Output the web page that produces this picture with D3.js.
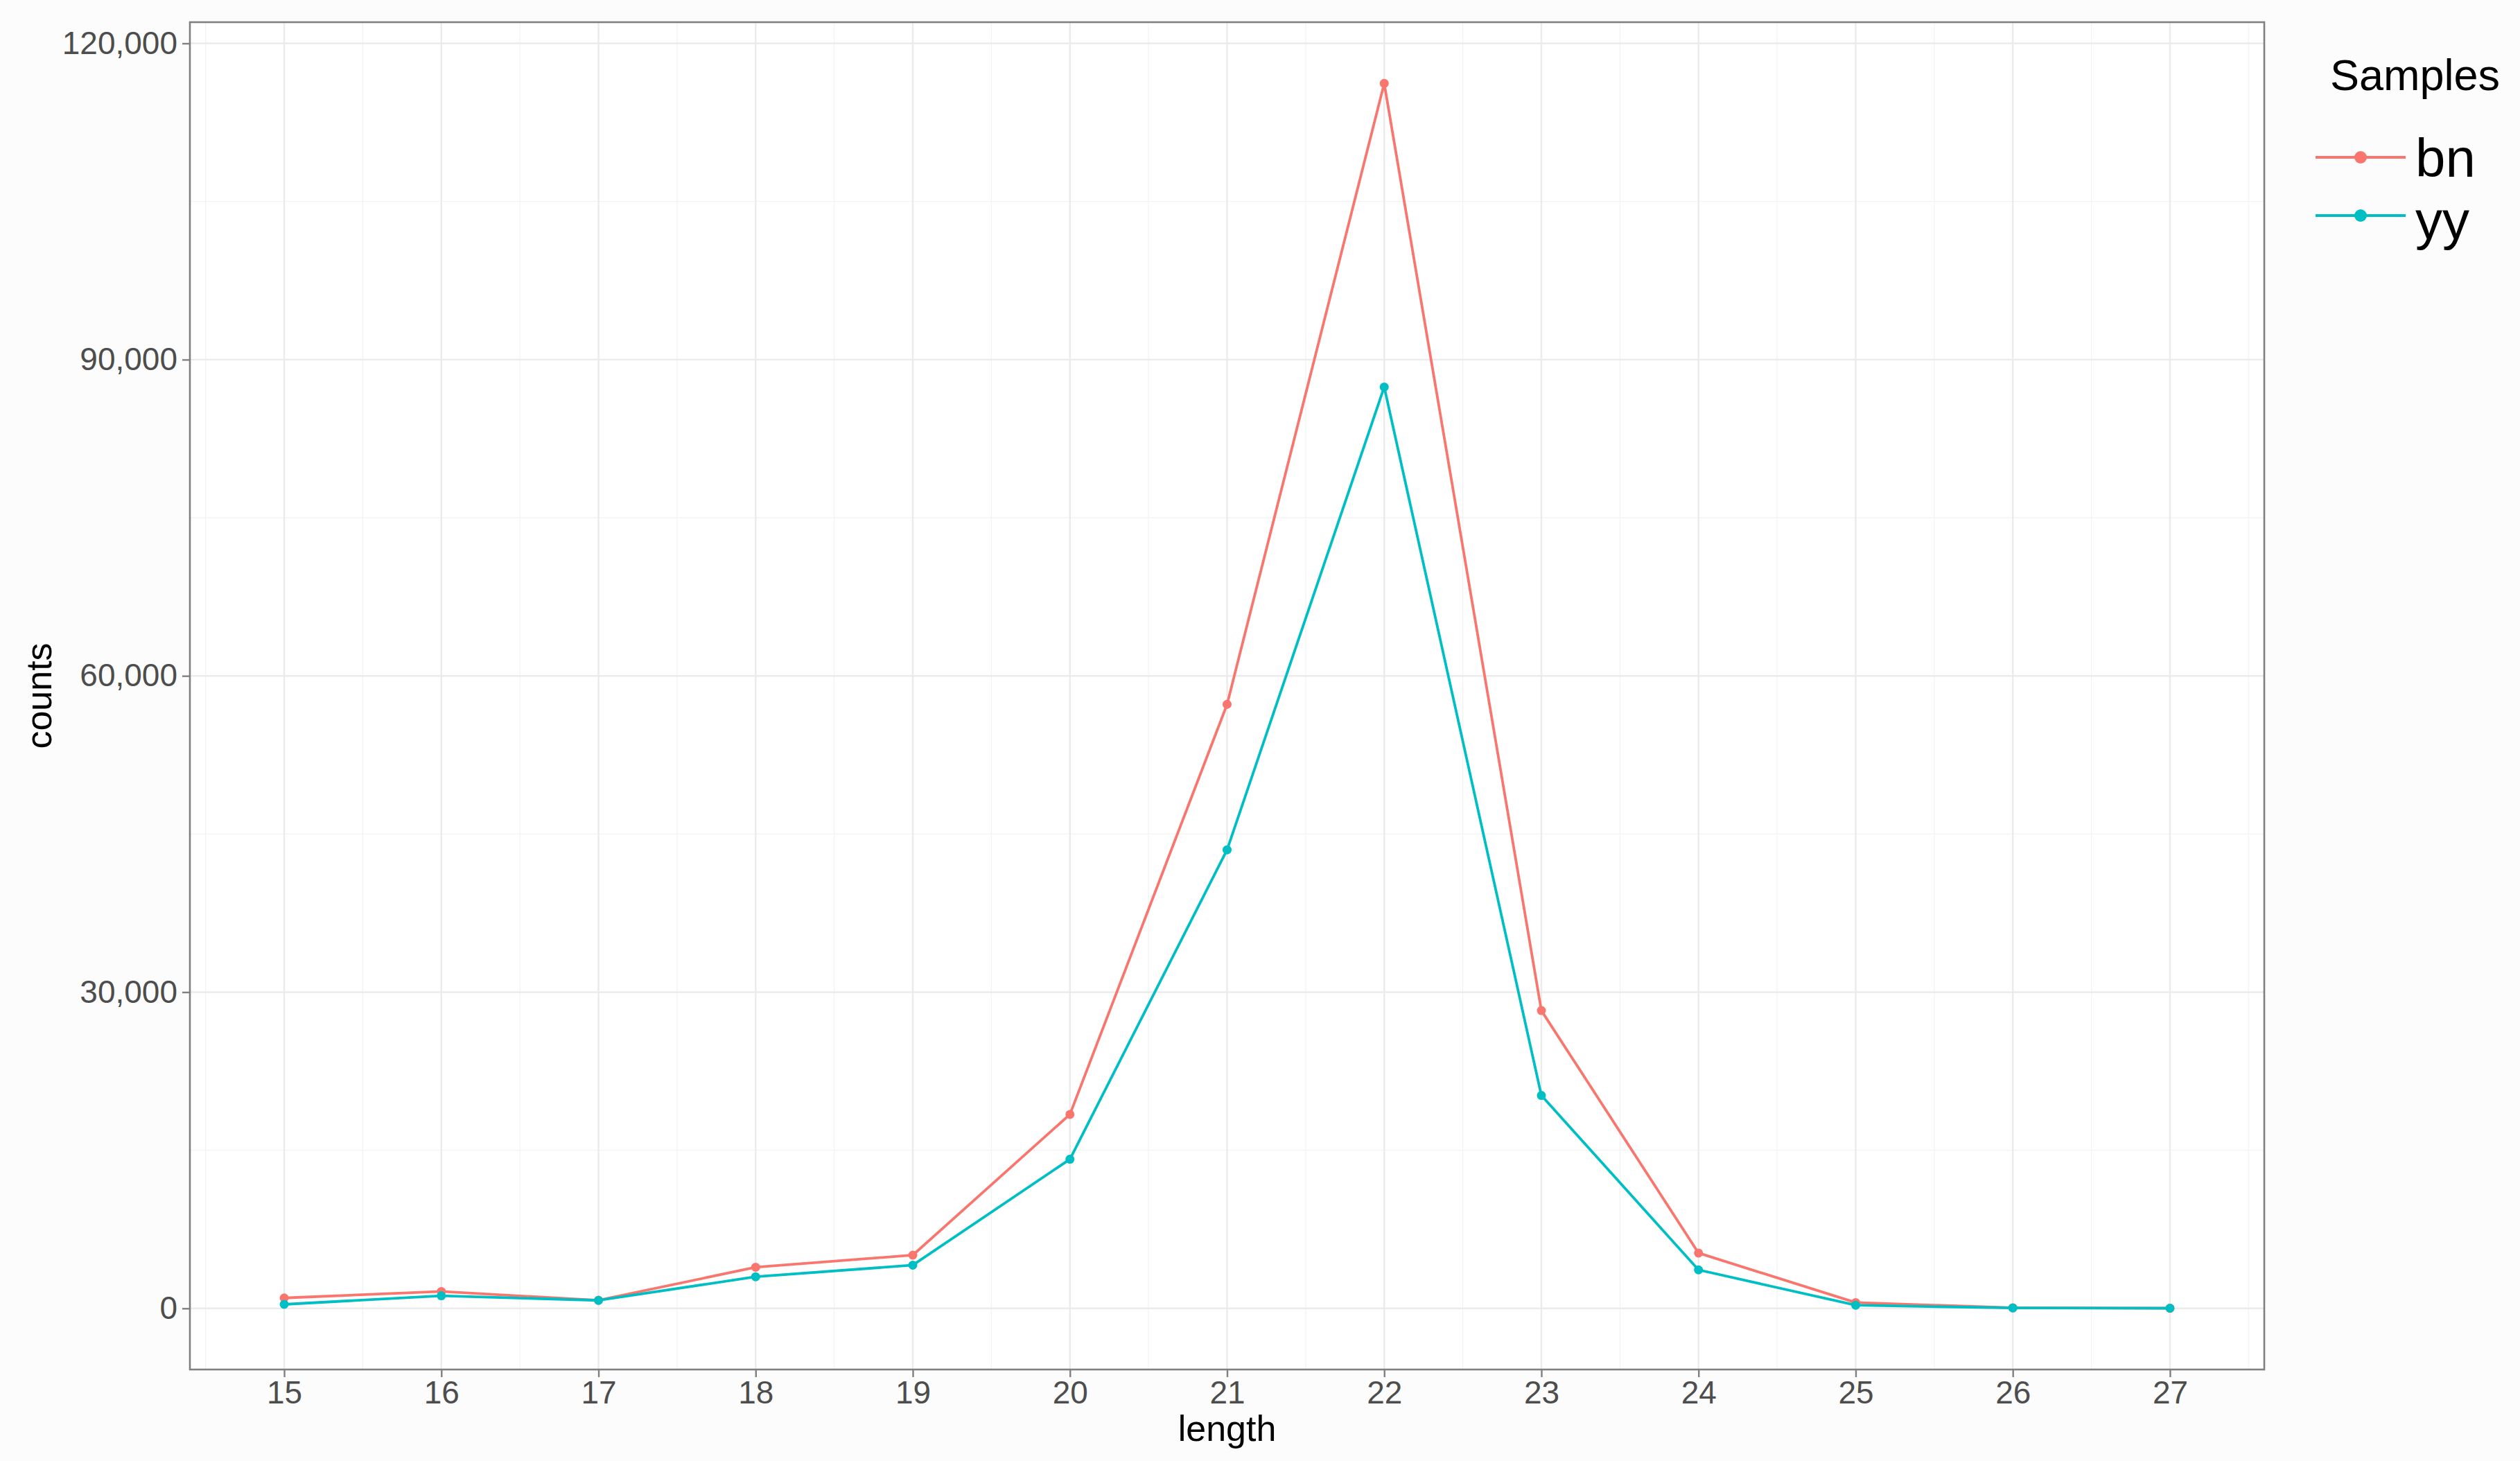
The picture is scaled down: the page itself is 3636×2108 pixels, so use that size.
<!DOCTYPE html>
<html>
<head>
<meta charset="utf-8">
<script src="https://cdn.jsdelivr.net/npm/d3@7"></script>
<style>
  html, body { margin: 0; padding: 0; background: #fcfcfc; }
  svg { display: block; font-family: 'Liberation Sans', Arial, sans-serif; }
</style>
</head>
<body>
<div id="chart"></div>
<script>
// read-length counts per sample
const lengths = [15, 16, 17, 18, 19, 20, 21, 22, 23, 24, 25, 26, 27];
const bnCounts = [990, 1600, 770, 3900, 5050, 18400, 57300, 116200, 28250, 5250, 550, 60, 10];
const yyCounts = [380, 1200, 760, 3000, 4100, 14150, 43500, 87400, 20200, 3650, 300, 40, 20];
const sampleNames = ['bn', 'yy'];
const yTicks = [0, 30000, 60000, 90000, 120000];
const yMinor = [15000, 45000, 75000, 105000];

const color = {
  series: ['#F8766D', '#00BFC4'],
  gridMajor: '#ebebeb',
  gridMinor: '#f3f3f3',
  border: '#808080',
  tickText: '#4d4d4d',
  title: '#000000'
};

const W = 3636;
const H = 2108;
const panel = { left: 274, right: 3267, top: 32, bottom: 1976 };

const svg = d3.select('#chart')
  .append('svg')
  .attr('width', W)
  .attr('height', H);

svg.append('rect')
  .attr('x', panel.left)
  .attr('y', panel.top)
  .attr('width', panel.right - panel.left)
  .attr('height', panel.bottom - panel.top)
  .attr('fill', '#ffffff');

// scales with ggplot-style 5% expansion
const xExt = d3.extent(lengths);
const xPad = (xExt[1] - xExt[0]) * 0.05;
const x = d3.scaleLinear()
  .domain([xExt[0] - xPad, xExt[1] + xPad])
  .range([panel.left, panel.right]);

const allCounts = bnCounts.concat(yyCounts);
const yExt = d3.extent(allCounts);
const yPad = (yExt[1] - yExt[0]) * 0.05;
const y = d3.scaleLinear()
  .domain([yExt[0] - yPad, yExt[1] + yPad])
  .range([panel.bottom, panel.top]);

const xMinor = lengths.map((d) => d - 0.5).concat([xExt[1] + 0.5]);

// grid lines
const grid = svg.append('g');
grid.selectAll('.xminor')
  .data(xMinor)
  .enter()
  .append('line')
  .attr('x1', (d) => x(d))
  .attr('x2', (d) => x(d))
  .attr('y1', panel.top)
  .attr('y2', panel.bottom)
  .attr('stroke', color.gridMinor)
  .attr('stroke-width', 1.3);

grid.selectAll('.yminor')
  .data(yMinor)
  .enter()
  .append('line')
  .attr('x1', panel.left)
  .attr('x2', panel.right)
  .attr('y1', (d) => y(d))
  .attr('y2', (d) => y(d))
  .attr('stroke', color.gridMinor)
  .attr('stroke-width', 1.3);

grid.selectAll('.xmajor')
  .data(lengths)
  .enter()
  .append('line')
  .attr('x1', (d) => x(d))
  .attr('x2', (d) => x(d))
  .attr('y1', panel.top)
  .attr('y2', panel.bottom)
  .attr('stroke', color.gridMajor)
  .attr('stroke-width', 2.4);

grid.selectAll('.ymajor')
  .data(yTicks)
  .enter()
  .append('line')
  .attr('x1', panel.left)
  .attr('x2', panel.right)
  .attr('y1', (d) => y(d))
  .attr('y2', (d) => y(d))
  .attr('stroke', color.gridMajor)
  .attr('stroke-width', 2.4);

// axes
const xAxis = svg.append('g')
  .attr('transform', `translate(0, ${panel.bottom})`)
  .call(d3.axisBottom(x).tickValues(lengths).tickSize(11).tickPadding(5).tickFormat(d3.format('d')));

const yAxis = svg.append('g')
  .attr('transform', `translate(${panel.left}, 0)`)
  .call(d3.axisLeft(y).tickValues(yTicks).tickSize(11).tickPadding(7).tickFormat(d3.format(',')));

[xAxis, yAxis].forEach((ax) => {
  ax.select('.domain').remove();
  ax.selectAll('.tick line').attr('stroke', color.border).attr('stroke-width', 2.4);
  ax.selectAll('.tick text')
    .attr('fill', color.tickText)
    .style('font-size', '46px')
    .style('font-family', 'inherit');
});

// panel border
svg.append('rect')
  .attr('x', panel.left)
  .attr('y', panel.top)
  .attr('width', panel.right - panel.left)
  .attr('height', panel.bottom - panel.top)
  .attr('fill', 'none')
  .attr('stroke', color.border)
  .attr('stroke-width', 2.6);

// axis titles
svg.append('text')
  .attr('x', (panel.left + panel.right) / 2)
  .attr('y', 2079)
  .attr('text-anchor', 'middle')
  .attr('fill', color.title)
  .style('font-size', '52px')
  .text('length');

svg.append('text')
  .attr('transform', `translate(74, ${(panel.top + panel.bottom) / 2}) rotate(-90)`)
  .attr('text-anchor', 'middle')
  .attr('fill', color.title)
  .style('font-size', '52px')
  .text('counts');

// series
const series = [bnCounts, yyCounts].map((vals, i) => ({
  name: sampleNames[i],
  color: color.series[i],
  points: lengths.map((len, j) => ({ len, value: vals[j] }))
}));

const line = d3.line()
  .x((d) => x(d.len))
  .y((d) => y(d.value));

const seriesG = svg.selectAll('.series')
  .data(series)
  .enter()
  .append('g');

seriesG.append('path')
  .attr('d', (d) => line(d.points))
  .attr('fill', 'none')
  .attr('stroke', (d) => d.color)
  .attr('stroke-width', 3.8)
  .attr('stroke-linejoin', 'round');

seriesG.selectAll('circle')
  .data((d) => d.points.map((p) => ({ ...p, color: d.color })))
  .enter()
  .append('circle')
  .attr('cx', (d) => x(d.len))
  .attr('cy', (d) => y(d.value))
  .attr('r', 6.5)
  .attr('fill', (d) => d.color);

// legend
const legend = svg.append('g');
legend.append('text')
  .attr('x', 3362)
  .attr('y', 130)
  .attr('fill', color.title)
  .style('font-size', '63px')
  .text('Samples');

const keyY = d3.scalePoint().domain(sampleNames).range([227, 311]);

const item = legend.selectAll('.item')
  .data(series)
  .enter()
  .append('g')
  .attr('transform', (d) => `translate(0, ${keyY(d.name)})`);

item.append('line')
  .attr('x1', 3341)
  .attr('x2', 3471)
  .attr('stroke', (d) => d.color)
  .attr('stroke-width', 3.8);

item.append('circle')
  .attr('cx', 3406)
  .attr('r', 9)
  .attr('fill', (d) => d.color);

item.append('text')
  .attr('x', 3485)
  .attr('y', (d, i) => (i === 0 ? 28 : 34))
  .attr('fill', color.title)
  .style('font-size', '78px')
  .text((d) => d.name);
</script>
</body>
</html>
